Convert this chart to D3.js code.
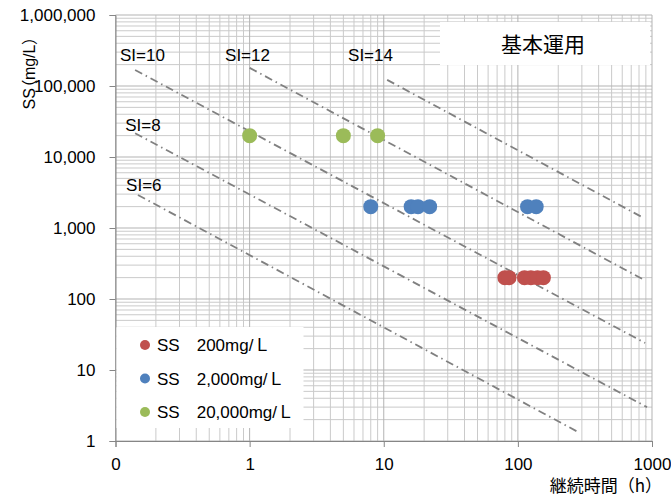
<!DOCTYPE html>
<html>
<head>
<meta charset="utf-8">
<script src="https://cdn.jsdelivr.net/npm/d3@7"></script>
<style>
  body { margin: 0; background: #fff; }
  svg text { font-family: "Liberation Sans", Arial, "Noto Sans CJK JP", sans-serif; fill: #000; }
  .cjk { font-family: "Noto Sans CJK JP", sans-serif; }
</style>
</head>
<body>
<svg id="chart"></svg>
<script>
// axis ticks
const xTicks = [0.1, 1, 10, 100, 1000]
const xTickLabels = ["0", "1", "10", "100", "1000"]
const yTicks = [1, 10, 100, 1000, 10000, 100000, 1000000]
const yTickLabels = ["1", "10", "100", "1,000", "10,000", "100,000", "1,000,000"]

// measured points: duration (h) per SS level
const seriesNames = ["SS\u3000200mg/\uFF2C", "SS\u30002,000mg/\uFF2C", "SS\u300020,000mg/\uFF2C"]
const seriesSS = [200, 2000, 20000]
const seriesColors = ["#c0504d", "#4f81bd", "#9bbb59"]
const hours200 = [80, 86, 112, 125, 140, 155]
const hours2000 = [8, 16, 18, 22, 118, 137]
const hours20000 = [1, 5, 9]

// SI reference lines (start / end)
const siNames = ["SI=6", "SI=8", "SI=10", "SI=12", "SI=14"]
const siStartT = [0.147, 0.14, 0.14, 1.0, 10.6]
const siStartSS = [2917, 21600, 168000, 180000, 122000]
const siEndT = [281, 918, 888, 859, 828]
const siEndSS = [1.34, 3.0, 24, 189, 1450]
// where each SI label sits (data coords)
const siLabelT = [0.12, 0.118, 0.108, 0.656, 5.42]
const siLabelSS = [3320, 23200, 225000, 225000, 225000]

const W = 671, H = 496
const plot = {left: 115.5, right: 652, top: 15, bottom: 441}

const svg = d3.select('#chart')
  .attr('width', W)
  .attr('height', H)

const x = d3.scaleLog().domain([0.1, 1000]).range([plot.left, plot.right])
const y = d3.scaleLog().domain([1, 1000000]).range([plot.bottom, plot.top])

// gridlines
const xMinor = x.ticks().filter(v => !xTicks.includes(v))
const yMinor = y.ticks().filter(v => !yTicks.includes(v))

const grid = svg.append('g')
grid.selectAll('line.xm').data(xMinor).enter().append('line')
  .attr('x1', d => x(d)).attr('x2', d => x(d))
  .attr('y1', plot.top).attr('y2', plot.bottom)
  .attr('stroke', '#cacaca')
grid.selectAll('line.ym').data(yMinor).enter().append('line')
  .attr('y1', d => y(d)).attr('y2', d => y(d))
  .attr('x1', plot.left).attr('x2', plot.right)
  .attr('stroke', '#cacaca')
grid.selectAll('line.xM').data(xTicks).enter().append('line')
  .attr('x1', d => x(d)).attr('x2', d => x(d))
  .attr('y1', plot.top).attr('y2', plot.bottom)
  .attr('stroke', '#b3b3b3')
grid.selectAll('line.yM').data(yTicks).enter().append('line')
  .attr('y1', d => y(d)).attr('y2', d => y(d))
  .attr('x1', plot.left).attr('x2', plot.right)
  .attr('stroke', '#b3b3b3')

// axes
svg.append('g')
  .attr('transform', 'translate(0,' + plot.bottom + ')')
  .call(d3.axisBottom(x).tickValues(xTicks)
    .tickFormat((d, i) => xTickLabels[i]).tickSize(6).tickPadding(11))
svg.append('g')
  .attr('transform', 'translate(' + plot.left + ',0)')
  .call(d3.axisLeft(y).tickValues(yTicks)
    .tickFormat((d, i) => yTickLabels[i]).tickSize(6).tickPadding(14))

svg.selectAll('.domain, .tick line').attr('stroke', '#868686')
svg.selectAll('.tick text').style('font-size', '17px').attr('fill', '#000')

// SI lines
const siLines = siNames.map((n, i) => [[siStartT[i], siStartSS[i]], [siEndT[i], siEndSS[i]]])
svg.append('g').selectAll('line').data(siLines).enter().append('line')
  .attr('x1', d => x(d[0][0])).attr('y1', d => y(d[0][1]))
  .attr('x2', d => x(d[1][0])).attr('y2', d => y(d[1][1]))
  .attr('stroke', '#808080')
  .attr('stroke-width', 1.8)
  .attr('stroke-dasharray', '8 4 1.5 4')

svg.append('g').selectAll('text').data(siNames).enter().append('text')
  .attr('x', (d, i) => x(siLabelT[i]))
  .attr('y', (d, i) => y(siLabelSS[i]))
  .style('font-size', '17px')
  .text(d => d)

// points
const hoursBySeries = [hours200, hours2000, hours20000]
hoursBySeries.forEach((hs, si) => {
  svg.append('g').selectAll('circle').data(hs).enter().append('circle')
    .attr('cx', d => x(d))
    .attr('cy', y(seriesSS[si]))
    .attr('r', 7.5)
    .attr('fill', seriesColors[si])
})

// legend box
const legend = svg.append('g')
legend.append('rect')
  .attr('x', 116.5).attr('y', 327).attr('width', 187).attr('height', 101)
  .attr('fill', '#fff')
const lg = legend.selectAll('g').data(seriesNames).enter().append('g')
  .attr('transform', (d, i) => 'translate(145,' + (345 + i * 33.5) + ')')
lg.append('circle').attr('r', 5).attr('fill', (d, i) => seriesColors[i])
lg.append('text').attr('x', 12).attr('y', 6)
  .style('font-size', '17px')
  .text(d => d)

// title box
svg.append('rect')
  .attr('x', 440).attr('y', 22).attr('width', 210).attr('height', 43)
  .attr('fill', '#fff')
svg.append('text')
  .attr('class', 'cjk')
  .attr('x', 543).attr('y', 52)
  .attr('text-anchor', 'middle')
  .style('font-size', '21px')
  .text('基本運用')

// axis titles
svg.append('text')
  .attr('transform', 'translate(35,73) rotate(-90)')
  .attr('text-anchor', 'middle')
  .style('font-size', '16px')
  .style('font-feature-settings', '"palt"')
  .text('SS（mg/L）')

svg.append('text')
  .attr('class', 'cjk')
  .attr('x', 662).attr('y', 492)
  .attr('text-anchor', 'end')
  .style('font-size', '17px')
  .text('継続時間（h）')
</script>
</body>
</html>
